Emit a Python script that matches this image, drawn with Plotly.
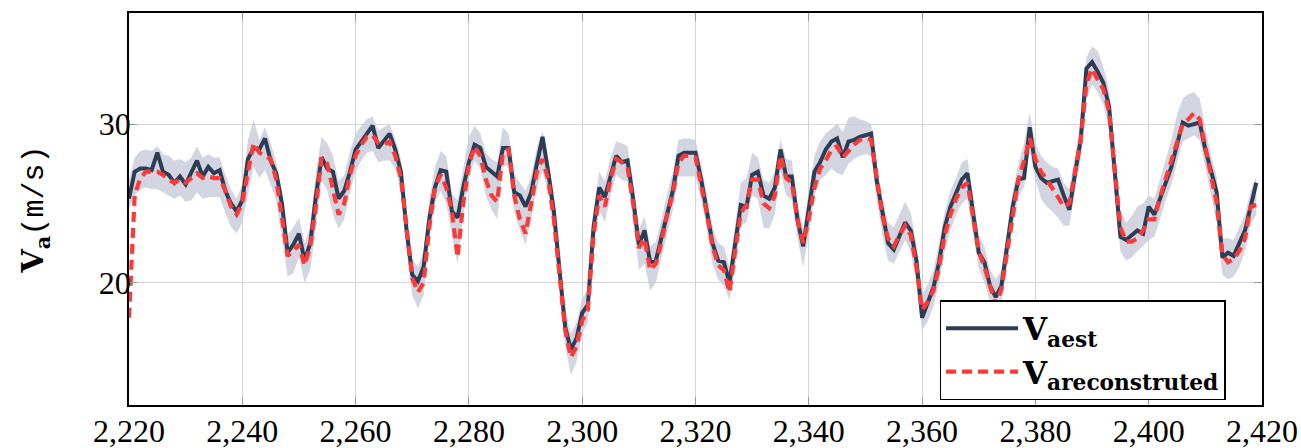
import plotly.graph_objects as go

# Sample index (time step) shared by every series
x_start = 2220
n_points = 200
steps = list(range(x_start, x_start + n_points))

# Estimated airspeed V_aest (m/s)
v_est = [
    25.3, 27.0, 27.2, 27.2, 27.1, 28.2, 27.0, 26.8, 26.3, 26.7,
    26.2, 26.9, 27.7, 26.7, 27.3, 26.9, 27.1, 25.8, 25.0, 24.5,
    25.2, 27.8, 28.5, 28.4, 29.1, 27.7, 26.9, 25.0, 21.9, 22.4,
    23.1, 21.4, 22.5, 25.5, 27.9, 27.2, 27.0, 25.3, 25.8, 27.0,
    28.4, 28.9, 29.4, 29.9, 28.5, 29.0, 29.4, 28.4, 27.0, 23.3,
    20.5, 20.1, 21.0, 24.0, 26.0, 27.1, 27.0, 24.5, 24.1, 26.0,
    27.6, 28.7, 28.5, 27.3, 27.0, 26.7, 28.5, 28.5, 25.7, 25.5,
    24.8, 25.7, 27.5, 29.2, 27.0, 24.5, 20.8, 17.2, 15.8, 16.5,
    18.1, 18.6, 23.5, 26.0, 25.4, 26.8, 28.0, 27.6, 27.7, 25.3,
    22.4, 23.3, 21.3, 21.4, 22.8, 24.4, 25.8, 28.0, 28.2, 28.2,
    28.2, 26.5, 24.6, 22.5, 21.4, 21.3, 20.0, 22.5, 24.9, 24.8,
    26.8, 27.0, 25.5, 25.3, 26.0, 28.4, 26.7, 26.7, 24.0, 22.3,
    24.8, 27.0, 27.6, 28.4, 28.9, 29.1, 27.9, 28.9, 29.0, 29.2,
    29.3, 29.4, 26.4, 24.3, 22.5, 22.1, 22.9, 23.8, 23.3, 21.4,
    17.8, 18.8, 19.7, 21.3, 23.5, 24.8, 25.7, 26.5, 26.9, 24.5,
    21.9, 21.3, 19.8, 19.1, 19.8, 22.3, 24.8, 26.5, 26.6, 29.8,
    27.3, 26.6, 26.3, 26.4, 26.5, 25.5, 24.6, 26.9, 29.0, 33.5,
    33.9, 33.3, 32.6, 31.1, 27.3, 22.9, 22.7, 23.0, 23.3, 23.1,
    24.8, 24.3, 25.4, 26.3, 27.3, 28.7, 30.1, 29.9, 30.0, 30.1,
    28.4, 27.0, 25.7, 21.6, 21.9, 21.7, 22.5, 23.3, 24.8, 26.3,
]

# Reconstructed airspeed V_areconstruted (m/s)
v_recon = [
    17.8, 25.5, 26.6, 27.0, 27.0, 27.0, 26.8, 26.5, 26.3, 26.5,
    26.3, 26.6, 26.9, 26.6, 26.7, 26.6, 26.6, 25.8, 24.8, 24.3,
    25.0, 27.0, 28.8, 28.2, 28.0, 27.8, 26.5, 24.2, 21.7, 22.0,
    22.4, 21.1, 22.3, 24.8, 27.9, 27.5, 26.0, 24.3, 25.0, 26.8,
    28.0, 28.7, 29.2, 29.3, 28.8, 28.7, 28.9, 28.0, 26.6, 23.3,
    20.3, 19.4, 20.0, 23.5, 26.0, 26.8, 26.0, 24.5, 21.6, 25.0,
    27.4, 28.6, 28.0, 26.5, 25.5, 25.1, 28.2, 28.4, 25.5, 24.0,
    23.1, 25.0, 27.0, 27.8, 26.5, 24.0, 20.5, 17.0, 15.3, 16.0,
    17.6, 18.3, 23.0, 25.5, 24.8, 26.5, 27.8, 27.6, 27.3, 25.0,
    22.2, 22.8, 20.8, 21.2, 22.6, 24.3, 25.6, 27.6, 28.0, 28.0,
    27.9, 26.3, 24.4, 22.3, 21.1, 20.8, 19.4, 22.0, 24.4, 24.9,
    26.5, 26.5, 25.0, 24.7, 25.5, 28.0, 26.6, 26.3, 24.0, 22.5,
    24.0, 26.0, 27.2, 27.7, 28.4, 28.6, 27.9, 28.3, 28.7, 29.0,
    29.1, 29.0, 26.5, 24.2, 22.8, 22.3, 23.0, 23.6, 23.0, 21.0,
    18.3, 18.8, 19.5, 21.0, 23.0, 24.3, 25.3, 26.0, 26.3, 24.0,
    22.0, 21.0, 19.8, 18.6, 19.6, 22.0, 24.5, 26.5, 27.7, 29.1,
    27.8, 27.0, 26.5, 26.0, 25.4, 24.8, 25.0, 27.0, 29.0, 32.5,
    33.5, 32.8, 32.2, 30.8, 27.4, 23.5, 22.6, 22.6, 22.8, 23.3,
    24.0, 24.0, 25.4, 26.6, 27.6, 29.0, 30.0, 30.3, 30.7, 30.3,
    28.5, 26.8, 25.0, 21.8, 21.3, 21.5, 22.0, 22.8, 24.8, 24.9,
]

# Uncertainty band: lower and upper bounds (m/s)
band_lo = [
    24.7, 25.5, 25.9, 26.0, 25.9, 25.9, 25.7, 25.5, 25.3, 25.5,
    25.1, 25.2, 25.7, 25.3, 25.4, 25.4, 25.4, 24.4, 23.5, 23.1,
    23.8, 25.6, 27.3, 26.6, 27.1, 26.2, 25.2, 22.8, 20.4, 20.6,
    21.6, 20.0, 20.8, 23.5, 26.5, 25.8, 24.3, 23.4, 24.0, 25.7,
    27.0, 27.7, 28.2, 28.3, 27.6, 27.7, 27.7, 27.2, 25.8, 22.0,
    19.2, 18.4, 19.2, 22.7, 25.0, 25.8, 25.0, 23.0, 21.2, 24.2,
    26.6, 27.7, 27.2, 25.5, 24.6, 24.0, 27.3, 27.4, 24.5, 23.3,
    22.4, 24.0, 26.0, 27.0, 25.7, 23.0, 19.5, 16.0, 14.2, 15.0,
    16.8, 17.5, 22.0, 24.6, 23.8, 25.5, 26.8, 26.5, 26.4, 24.0,
    20.8, 21.2, 19.5, 20.0, 21.6, 23.2, 24.6, 26.7, 26.7, 26.7,
    26.7, 25.2, 23.4, 21.2, 20.2, 19.8, 18.9, 21.0, 23.6, 23.8,
    25.5, 25.3, 23.5, 23.4, 24.3, 27.0, 25.5, 25.2, 22.8, 21.0,
    23.0, 25.5, 26.5, 26.8, 27.2, 26.9, 26.8, 27.5, 27.8, 28.0,
    28.1, 28.0, 25.3, 23.0, 21.4, 21.2, 22.0, 22.7, 22.0, 20.0,
    17.0, 17.6, 18.5, 20.0, 22.0, 23.3, 24.3, 25.0, 25.3, 23.0,
    20.9, 20.0, 18.8, 18.2, 18.8, 21.0, 23.5, 25.5, 26.0, 28.3,
    26.5, 25.3, 24.8, 24.5, 24.1, 23.6, 23.6, 25.8, 27.8, 31.5,
    32.5, 32.0, 31.2, 29.6, 26.0, 22.0, 21.4, 21.6, 22.0, 22.3,
    22.7, 22.9, 24.0, 25.2, 26.2, 27.6, 28.9, 29.1, 29.3, 29.0,
    27.3, 25.6, 23.8, 20.5, 20.2, 20.4, 21.0, 22.0, 23.7, 24.3,
]
band_hi = [
    26.5, 27.9, 28.3, 28.4, 28.3, 28.6, 28.1, 28.0, 27.7, 27.8,
    27.6, 27.9, 28.6, 27.9, 28.1, 27.9, 27.9, 26.8, 25.9, 25.3,
    26.2, 29.0, 30.3, 29.0, 29.8, 28.8, 27.6, 25.8, 23.0, 23.5,
    24.1, 22.5, 23.5, 27.0, 29.2, 28.8, 28.0, 26.4, 26.8, 28.3,
    29.4, 29.9, 30.3, 30.5, 29.6, 29.8, 30.0, 29.1, 27.8, 24.3,
    21.5, 21.0, 22.0, 25.2, 27.3, 28.3, 28.0, 25.6, 25.2, 27.2,
    29.2, 29.9, 29.4, 28.2, 27.8, 27.6, 29.8, 29.4, 26.9, 26.3,
    25.8, 26.7, 28.5, 29.6, 27.8, 25.5, 21.8, 18.3, 16.8, 17.5,
    19.0, 19.6, 24.5, 27.0, 26.4, 27.9, 28.9, 28.8, 28.6, 26.3,
    23.4, 24.2, 22.3, 22.6, 24.0, 25.6, 27.0, 29.0, 29.1, 29.1,
    29.0, 27.5, 25.6, 23.5, 22.5, 22.3, 21.0, 23.5, 26.3, 26.6,
    28.2, 27.9, 26.5, 26.3, 27.0, 29.0, 27.8, 27.7, 25.0, 23.4,
    25.8, 28.0, 28.9, 29.4, 29.7, 30.0, 29.5, 30.4, 30.5, 30.3,
    30.2, 30.0, 27.5, 25.3, 23.8, 23.5, 24.3, 25.1, 24.4, 22.4,
    19.3, 19.9, 20.8, 22.5, 24.5, 25.8, 26.6, 27.6, 27.8, 25.5,
    23.0, 22.3, 20.8, 20.2, 20.8, 23.3, 25.8, 27.5, 28.8, 30.7,
    28.8, 28.0, 27.6, 27.3, 27.2, 26.3, 25.9, 28.0, 30.2, 34.2,
    34.9, 34.6, 33.6, 32.2, 28.5, 24.6, 23.8, 24.2, 24.8, 25.0,
    25.5, 25.3, 26.5, 27.8, 29.0, 30.6, 31.6, 31.9, 32.0, 31.6,
    29.8, 28.0, 26.7, 22.8, 22.8, 22.7, 23.5, 24.3, 25.8, 26.7,
]

x_ticks = list(range(2220, 2421, 20))
y_ticks = [20, 30]

SERIF = "Liberation Serif, DejaVu Serif, serif"
WIDE_SERIF = "DejaVu Serif, Liberation Serif, serif"
MONO = "Liberation Mono, DejaVu Sans Mono, monospace"
EST_COLOR = "#2e3d56"
RECON_COLOR = "#fb3a3a"
BAND_COLOR = "rgba(200,202,216,0.8)"


def legend_label(sub):
    # bold V with a bold subscript
    return f"<b>V</b><sub><b>{sub}</b></sub>"


fig = go.Figure()

# Shaded band (closed polygon: lower bound forward, upper bound back)
fig.add_trace(go.Scatter(
    x=steps + steps[::-1],
    y=band_lo + band_hi[::-1],
    fill="toself",
    fillcolor=BAND_COLOR,
    line=dict(width=0),
    mode="lines",
    hoverinfo="skip",
    showlegend=False,
))

fig.add_trace(go.Scatter(
    x=steps, y=v_est, mode="lines",
    name=legend_label("aest"),
    line=dict(color=EST_COLOR, width=4),
))

fig.add_trace(go.Scatter(
    x=steps, y=v_recon, mode="lines",
    name=legend_label("areconstruted"),
    line=dict(color=RECON_COLOR, width=4.2, dash="10px,6px"),
))

axis_common = dict(
    showgrid=True, gridcolor="#d4d4d4", gridwidth=1.2,
    showline=True, linecolor="black", linewidth=1.5, mirror="ticks",
    ticks="inside", ticklen=8, tickcolor="#9a9a9a", tickwidth=1.3,
    zeroline=False, automargin=False,
    tickfont=dict(family=SERIF, size=32, color="black"),
)

fig.update_layout(
    width=1301, height=448,
    margin=dict(l=129, r=39, t=13, b=43),
    paper_bgcolor="white", plot_bgcolor="white",
    xaxis=dict(
        range=[2220, 2420], tickvals=x_ticks, tickformat=",",
        ticklabelstandoff=-3,
        **axis_common,
    ),
    yaxis=dict(
        range=[12.3, 37.0], tickvals=y_ticks,
        ticklabelstandoff=-10,
        title=dict(
            text=("<b>V</b><sub><b>a</b></sub>"
                  f"<span style='font-family:{MONO}'>(m/s)</span>"),
            font=dict(family=WIDE_SERIF, size=30, color="black"),
            standoff=46,
        ),
        **axis_common,
    ),
    legend=dict(
        x=0.968, xanchor="right", y=0.012, yanchor="bottom",
        bgcolor="white", bordercolor="black", borderwidth=1.3,
        font=dict(family=WIDE_SERIF, size=31, color="black"),
        tracegroupgap=0, itemwidth=72,
    ),
    showlegend=True,
)

fig.write_html("out.html")
